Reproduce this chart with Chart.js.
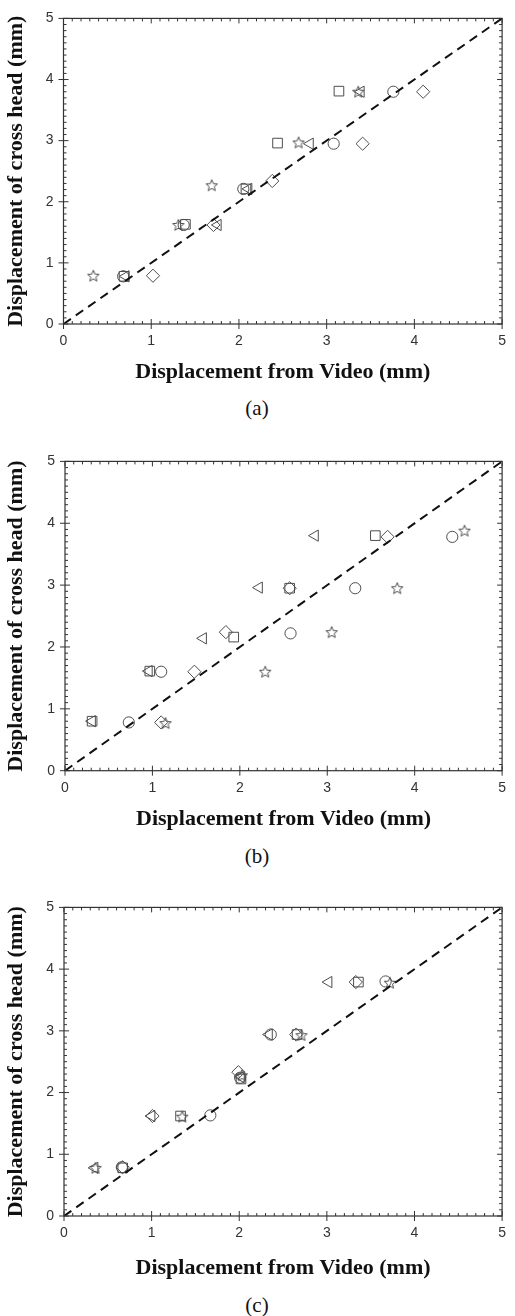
<!DOCTYPE html>
<html>
<head>
<meta charset="utf-8">
<script src="https://cdn.jsdelivr.net/npm/chart.js@4.4.0/dist/chart.umd.min.js"></script>
<style>
  body { margin: 0; background: #fff; width: 515px; height: 1316px; position: relative; overflow: hidden; }
  .panel { position: absolute; left: 0; width: 515px; }
  .caption { position: absolute; left: 0; width: 514px; height: 24px; line-height: 24px; text-align: center;
             font-family: "Liberation Serif", "Times New Roman", serif; font-size: 21px; color: #111; }
</style>
</head>
<body>
<div class="panel" id="pa"><canvas id="ca"></canvas></div>
<div class="caption" id="capa">(a)</div>
<div class="panel" id="pb"><canvas id="cb"></canvas></div>
<div class="caption" id="capb">(b)</div>
<div class="panel" id="pc"><canvas id="cc"></canvas></div>
<div class="caption" id="capc">(c)</div>
<script>
// axis ticks (both axes)
const tickVals = [0, 1, 2, 3, 4, 5];
const xLabel = 'Displacement from Video (mm)';
const yLabel = 'Displacement of cross head (mm)';

// reference line y = x
const refX = [0, 5];
const refY = [0, 5];

// panel (a)
const aSquareX   = [0.69, 1.39, 2.08, 2.44, 3.14];
const aSquareY   = [0.78, 1.63, 2.21, 2.96, 3.81];
const aCircleX   = [0.68, 1.37, 2.05, 3.08, 3.76];
const aCircleY   = [0.78, 1.62, 2.21, 2.95, 3.80];
const aTriangleX = [0.71, 1.76, 2.11, 2.81, 3.39];
const aTriangleY = [0.78, 1.62, 2.21, 2.95, 3.80];
const aDiamondX  = [1.02, 1.71, 2.38, 3.41, 4.10];
const aDiamondY  = [0.79, 1.62, 2.34, 2.95, 3.80];
const aStarX     = [0.34, 1.31, 1.69, 2.68, 3.36];
const aStarY     = [0.79, 1.62, 2.27, 2.97, 3.80];

// panel (b)
const bSquareX   = [0.31, 0.97, 1.93, 2.57, 3.55];
const bSquareY   = [0.80, 1.61, 2.16, 2.95, 3.80];
const bCircleX   = [0.73, 1.10, 2.58, 3.32, 4.43];
const bCircleY   = [0.78, 1.60, 2.22, 2.95, 3.78];
const bTriangleX = [0.31, 0.96, 1.58, 2.22, 2.86];
const bTriangleY = [0.80, 1.61, 2.14, 2.96, 3.80];
const bDiamondX  = [1.10, 1.48, 1.84, 2.57, 3.69];
const bDiamondY  = [0.78, 1.60, 2.24, 2.95, 3.78];
const bStarX     = [1.15, 2.29, 3.05, 3.80, 4.57];
const bStarY     = [0.77, 1.60, 2.24, 2.95, 3.88];

// panel (c)
const cSquareX   = [0.67, 1.33, 2.02, 2.66, 3.36];
const cSquareY   = [0.78, 1.62, 2.22, 2.94, 3.79];
const cCircleX   = [0.66, 1.67, 2.01, 2.36, 3.67];
const cCircleY   = [0.79, 1.63, 2.24, 2.94, 3.80];
const cTriangleX = [0.35, 1.00, 2.02, 2.34, 3.02];
const cTriangleY = [0.78, 1.62, 2.25, 2.94, 3.79];
const cDiamondX  = [0.67, 1.01, 1.99, 2.65, 3.33];
const cDiamondY  = [0.79, 1.62, 2.33, 2.94, 3.79];
const cStarX     = [0.36, 1.35, 2.03, 2.71, 3.72];
const cStarY     = [0.78, 1.61, 2.28, 2.93, 3.78];

const markColor = '#4d4d4d';

function zip(xs, ys) {
    return xs.map((v, i) => ({ x: v, y: ys[i] }));
}

// 5 point outline star, used as a pointStyle image
function makeStar(r) {
    const c = document.createElement('canvas');
    const s = Math.ceil(r * 2 + 4);
    c.width = s; c.height = s;
    const g = c.getContext('2d');
    g.strokeStyle = markColor;
    g.lineWidth = 1;
    g.beginPath();
    for (let k = 0; k < 10; k++) {
        const rr = k % 2 ? r * 0.45 : r;
        const ang = -Math.PI / 2 + k * Math.PI / 5;
        const px = s / 2 + rr * Math.cos(ang), py = s / 2 + 0.5 + rr * Math.sin(ang);
        if (k) g.lineTo(px, py); else g.moveTo(px, py);
    }
    g.closePath();
    g.stroke();
    return c;
}
const starImg = makeStar(6);

// frame + minor ticks on all four sides
const framePlugin = {
    id: 'frame',
    afterDatasetsDraw(chart) {
        const { ctx, chartArea: a } = chart;
        const x = chart.scales.x, y = chart.scales.y;
        ctx.save();
        ctx.strokeStyle = '#333';
        ctx.lineWidth = 1.2;
        ctx.strokeRect(a.left, a.top, a.right - a.left, a.bottom - a.top);
        ctx.lineWidth = 1;
        ctx.beginPath();
        for (let i = 0; i <= 50; i++) {
            const v = i / 10;
            const major = i % 10 === 0;
            const inn = major ? 5 : 3, out = major ? 5 : 0;
            const px = x.getPixelForValue(v), py = y.getPixelForValue(v);
            ctx.moveTo(px, a.bottom + out); ctx.lineTo(px, a.bottom - inn);
            ctx.moveTo(px, a.top); ctx.lineTo(px, a.top + inn);
            ctx.moveTo(a.left - out, py); ctx.lineTo(a.left + inn, py);
            ctx.moveTo(a.right, py); ctx.lineTo(a.right - inn, py);
        }
        ctx.stroke();
        ctx.restore();
    }
};

function scatterSet(label, xs, ys, style, radius, rotation) {
    return {
        type: 'scatter',
        label: label,
        data: zip(xs, ys),
        pointStyle: style,
        pointRadius: radius,
        pointRotation: rotation || 0,
        borderColor: markColor,
        backgroundColor: 'rgba(0,0,0,0)',
        pointBorderWidth: 1
    };
}

function crearPanel(canvasId, panelId, capId, p, series) {
    const W = 515;
    const H = Math.round(p.titleY + 20 - p.top);
    const panel = document.getElementById(panelId);
    panel.style.top = p.top + 'px';
    panel.style.height = H + 'px';
    const cap = document.getElementById(capId);
    cap.style.top = (p.capY - 12) + 'px';
    const cv = document.getElementById(canvasId);
    cv.width = W; cv.height = H;
    cv.style.width = W + 'px'; cv.style.height = H + 'px';

    const tickFont = { family: 'Liberation Sans', size: 14 };
    const titleFont = { family: 'Liberation Serif', size: 22, weight: 'bold' };

    // wanted plot box inside this canvas
    const want = { left: p.L, right: p.R, top: p.T - p.top, bottom: p.B - p.top };
    let yWidth = want.left;
    let xHeight = H - want.bottom;

    const chart = new Chart(cv.getContext('2d'), {
        data: {
            datasets: [
                {
                    type: 'line',
                    label: 'y = x',
                    data: zip(refX, refY),
                    borderColor: '#111',
                    borderWidth: 2,
                    borderDash: [9, 6],
                    pointRadius: 0,
                    fill: false
                },
                scatterSet('Square', series.sq[0], series.sq[1], 'rect', 6.8),
                scatterSet('Circle', series.ci[0], series.ci[1], 'circle', 5.6),
                scatterSet('Triangle', series.tr[0], series.tr[1], 'triangle', 6.5, -90),
                scatterSet('Diamond', series.di[0], series.di[1], 'rectRot', 6.6),
                scatterSet('Star', series.st[0], series.st[1], starImg, 6)
            ]
        },
        options: {
            responsive: false,
            animation: false,
            devicePixelRatio: 1,
            layout: {
                autoPadding: false,
                padding: { top: want.top, right: W - want.right, left: 0, bottom: 0 }
            },
            plugins: { legend: { display: false }, tooltip: { enabled: false } },
            scales: {
                x: {
                    type: 'linear', position: 'bottom', min: 0, max: 5,
                    afterBuildTicks: (s) => { s.ticks = tickVals.map(v => ({ value: v })); },
                    ticks: { padding: 9, color: '#333', font: tickFont, maxRotation: 0 },
                    grid: { display: false, drawTicks: false },
                    border: { display: false },
                    title: { display: true, text: xLabel, color: '#111', font: titleFont,
                             padding: { top: 0, bottom: 6.8 } },
                    afterFit: (s) => { s.height = xHeight; }
                },
                y: {
                    type: 'linear', position: 'left', min: 0, max: 5,
                    afterBuildTicks: (s) => { s.ticks = tickVals.map(v => ({ value: v })); },
                    ticks: { padding: 10, color: '#333', font: tickFont },
                    grid: { display: false, drawTicks: false },
                    border: { display: false },
                    title: { display: true, text: yLabel, color: '#111', font: titleFont,
                             padding: { top: 3, bottom: 0 } },
                    afterFit: (s) => { s.width = yWidth; }
                }
            }
        },
        plugins: [framePlugin]
    });

    // if the layout drifted from the wanted plot box, correct it once
    const a = chart.chartArea;
    const pad = chart.options.layout.padding;
    const dr = a.right - want.right, dt = want.top - a.top;
    const dl = want.left - a.left, db = a.bottom - want.bottom;
    if (Math.abs(dr) > 0.3 || Math.abs(dt) > 0.3 || Math.abs(dl) > 0.3 || Math.abs(db) > 0.3) {
        pad.right += dr;
        pad.top += dt;
        yWidth += dl;
        xHeight += db;
        chart.update();
    }
}

crearPanel('ca', 'pa', 'capa',
    { top: 0, L: 63.5, R: 510.5, T: 14, B: 324, titleY: 372, capY: 408 },
    { sq: [aSquareX, aSquareY], ci: [aCircleX, aCircleY], tr: [aTriangleX, aTriangleY],
      di: [aDiamondX, aDiamondY], st: [aStarX, aStarY] });

crearPanel('cb', 'pb', 'capb',
    { top: 443, L: 65, R: 513, T: 457.3, B: 770.7, titleY: 819, capY: 856 },
    { sq: [bSquareX, bSquareY], ci: [bCircleX, bCircleY], tr: [bTriangleX, bTriangleY],
      di: [bDiamondX, bDiamondY], st: [bStarX, bStarY] });

crearPanel('cc', 'pc', 'capc',
    { top: 889, L: 64, R: 511.7, T: 903.3, B: 1216, titleY: 1268, capY: 1305 },
    { sq: [cSquareX, cSquareY], ci: [cCircleX, cCircleY], tr: [cTriangleX, cTriangleY],
      di: [cDiamondX, cDiamondY], st: [cStarX, cStarY] });
</script>
</body>
</html>
